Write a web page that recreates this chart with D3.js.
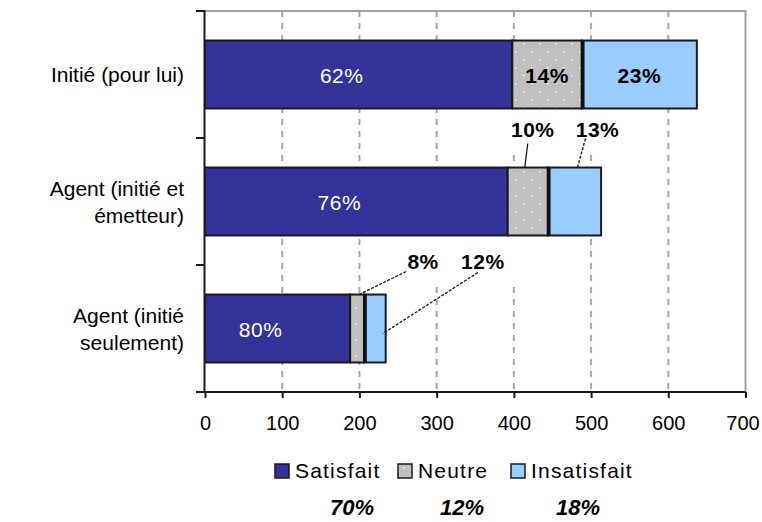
<!DOCTYPE html>
<html><head><meta charset="utf-8">
<script src="https://cdn.jsdelivr.net/npm/d3@7/dist/d3.min.js"></script>
<style>
html,body{margin:0;padding:0;background:#fff;}
svg{display:block;font-family:"Liberation Sans",Arial,sans-serif;}
</style></head>
<body>
<svg id="chart" width="762" height="522"></svg>
<script>
// ---- data ----
const categories = ["Initié (pour lui)", "Agent (initié et émetteur)", "Agent (initié seulement)"];
const categoryLines = [["Initié (pour lui)"], ["Agent (initié et", "émetteur)"], ["Agent (initié", "seulement)"]];
const seriesNames = ["Satisfait", "Neutre", "Insatisfait"];
const satisfait = [398, 392, 188];
const neutre = [90, 52, 18];
const insatisfait = [149, 69, 28];
const pctSatisfait = ["62%", "76%", "80%"];
const pctNeutre = ["14%", "10%", "8%"];
const pctInsatisfait = ["23%", "13%", "12%"];
const totalPct = ["70%", "12%", "18%"];
const xTicks = [0, 100, 200, 300, 400, 500, 600, 700];

// ---- layout / style ----
const colors = ["#333399", "#c0c0c0", "#99ccff"];
const plot = {left: 205, right: 746, top: 11, bottom: 392};

const svg = d3.select("#chart");
const defs = svg.append("defs");
const pat = defs.append("pattern").attr("id", "dots").attr("patternUnits", "userSpaceOnUse")
  .attr("width", 16).attr("height", 16);
pat.append("rect").attr("width", 16).attr("height", 16).attr("fill", colors[1]);
pat.append("rect").attr("x", 3).attr("y", 3).attr("width", 1.4).attr("height", 1.4).attr("fill", "#fff");
pat.append("rect").attr("x", 11).attr("y", 11).attr("width", 1.4).attr("height", 1.4).attr("fill", "#fff");
const fills = [colors[0], "url(#dots)", colors[2]];

const x = d3.scaleLinear().domain([0, 700]).range([plot.left, plot.right - 0.5]);
const y = d3.scaleBand().domain(categories).range([plot.top, plot.bottom])
  .paddingInner(0.465).paddingOuter(0.2325);

const rows = categories.map((c, i) => ({cat: c, Satisfait: satisfait[i], Neutre: neutre[i], Insatisfait: insatisfait[i]}));
const stacked = d3.stack().keys(seriesNames)(rows);
const pctBySeries = [pctSatisfait, pctNeutre, pctInsatisfait];

// gridlines
svg.append("g").selectAll("line").data(xTicks.filter(t => t > 0 && t < 700)).join("line")
  .attr("x1", d => x(d)).attr("x2", d => x(d))
  .attr("y1", plot.top).attr("y2", plot.bottom)
  .attr("stroke", "#a6a6a6").attr("stroke-width", 2).attr("stroke-dasharray", "6,6");

// plot frame (top and right grey)
svg.append("path")
  .attr("d", `M${plot.left},${plot.top}H${x(700)}V${plot.bottom}`)
  .attr("fill", "none").attr("stroke", "#a0a0a0").attr("stroke-width", 2);

// outside label placements (bar index, series index): label offset from segment anchor
const outside = [
  {bar: 1, s: 1, dx: 5, dy: -31, sx: -5, sy: 7, ax: -3, ay: 0, dash: null},
  {bar: 1, s: 2, dx: 23, dy: -31, sx: -12, sy: 2, ax: 3, ay: 0, dash: "3,1.5"},
  {bar: 2, s: 1, dx: 66, dy: -26, sx: -17, sy: 3, ax: 2, ay: 0, dash: "3,1.5"},
  {bar: 2, s: 2, dx: 108, dy: -26, sx: -5, sy: 4, ax: 8, ay: 39, dash: "3,1.5"}
];
const isOutside = (b, s) => outside.some(o => o.bar === b && o.s === s);

const labelLayer = svg.append("g");
const bgLayer = labelLayer.append("g");
const barLayer = svg.append("g");
const leaderLayer = svg.append("g");
const textLayer = svg.append("g");

stacked.forEach((ser, si) => {
  barLayer.append("g").selectAll("rect").data(ser).join("rect")
    .attr("x", d => x(d[0])).attr("width", d => x(d[1]) - x(d[0]))
    .attr("y", d => y(d.data.cat)).attr("height", y.bandwidth())
    .attr("fill", fills[si]).attr("stroke", "#1a1a1a").attr("stroke-width", 2);
  if (si === 2) {
    barLayer.append("g").selectAll("line").data(ser).join("line")
      .attr("x1", d => x(d[0]) + 1).attr("x2", d => x(d[0]) + 1)
      .attr("y1", d => y(d.data.cat)).attr("y2", d => y(d.data.cat) + y.bandwidth())
      .attr("stroke", "#111").attr("stroke-width", 3.5);
  }
});

// inside labels
stacked.forEach((ser, si) => {
  ser.forEach((d, bi) => {
    if (isOutside(bi, si)) return;
    const cx = (x(d[0]) + x(d[1])) / 2 + (si === 0 ? -17 : 0);
    const cy = y(d.data.cat) + y.bandwidth() / 2 + 8;
    textLayer.append("text").attr("x", cx).attr("y", cy).attr("text-anchor", "middle")
      .attr("font-size", 21).attr("font-weight", si === 0 ? "normal" : "bold")
      .attr("fill", si === 0 ? "#fff" : "#000").attr("letter-spacing", 0.5)
      .text(pctBySeries[si][bi]);
  });
});

// outside labels with leaders
outside.forEach(o => {
  const d = stacked[o.s][o.bar];
  const axp = (x(d[0]) + x(d[1])) / 2;
  const ayp = y(d.data.cat);
  const lx = axp + o.dx, ly = ayp + o.dy;
  const t = textLayer.append("text").attr("x", lx).attr("y", ly).attr("text-anchor", "middle")
    .attr("font-size", 21).attr("font-weight", "bold").attr("fill", "#000").attr("letter-spacing", 0.5)
    .text(pctBySeries[o.s][o.bar]);
  const bb = t.node().getBBox();
  bgLayer.append("rect").attr("x", bb.x - 4).attr("y", bb.y - 14)
    .attr("width", bb.width + 16).attr("height", bb.height + 26).attr("fill", "#fff");
  leaderLayer.append("line")
    .attr("x1", lx + o.sx).attr("y1", ly + o.sy)
    .attr("x2", axp + o.ax).attr("y2", ayp + o.ay)
    .attr("stroke", "#111").attr("stroke-width", 1.3)
    .attr("stroke-dasharray", o.dash);
});

// x axis
const xAxis = svg.append("g").attr("transform", `translate(0,${plot.bottom})`)
  .call(d3.axisBottom(x).tickValues(xTicks).tickSize(6).tickPadding(18).tickFormat(d3.format("d")));
xAxis.select(".domain").attr("d", `M${plot.left - 8},0H${x(700)}`).attr("stroke", "#1a1a1a").attr("stroke-width", 2);
xAxis.selectAll(".tick line").attr("stroke", "#1a1a1a").attr("stroke-width", 2);
xAxis.selectAll(".tick text").attr("font-size", 20).attr("fill", "#000")
  .attr("font-family", "'Liberation Sans',Arial,sans-serif")
  .attr("dx", d => d === 700 ? -3 : 0);

// y axis (left line + boundary ticks)
const yg = svg.append("g");
yg.append("line").attr("x1", plot.left - 0.5).attr("x2", plot.left - 0.5)
  .attr("y1", plot.top - 1).attr("y2", plot.bottom)
  .attr("stroke", "#1a1a1a").attr("stroke-width", 2);
const bounds = categories.map(c => y(c) - y.step() * y.paddingInner() / 2).concat([plot.bottom]);
yg.selectAll("line.tk").data(bounds).join("line").attr("class", "tk")
  .attr("x1", plot.left - 9).attr("x2", plot.left)
  .attr("y1", d => d).attr("y2", d => d)
  .attr("stroke", "#1a1a1a").attr("stroke-width", 2);

// category labels
categories.forEach((c, i) => {
  const lines = categoryLines[i];
  const cy = y(c) + y.bandwidth() / 2;
  const lh = 27;
  const t = yg.append("text").attr("text-anchor", "end").attr("font-size", 21).attr("fill", "#000");
  lines.forEach((ln, k) => {
    t.append("tspan").attr("x", 184)
      .attr("y", cy + 7.5 + (k - (lines.length - 1) / 2) * lh).text(ln);
  });
});

// legend
const legendX = [275, 398, 511];
const lg = svg.append("g");
seriesNames.forEach((n, i) => {
  lg.append("rect").attr("x", legendX[i]).attr("y", 464).attr("width", 14).attr("height", 14)
    .attr("fill", fills[i]).attr("stroke", "#1a1a1a").attr("stroke-width", 1.5);
  lg.append("text").attr("x", legendX[i] + 20).attr("y", 478).attr("font-size", 21)
    .attr("letter-spacing", 1.2).attr("fill", "#000").text(n);
});
const totX = [352, 462, 578];
totalPct.forEach((p, i) => {
  lg.append("text").attr("x", totX[i]).attr("y", 515).attr("text-anchor", "middle")
    .attr("font-size", 22).attr("font-weight", "bold").attr("font-style", "italic")
    .attr("fill", "#000").text(p);
});
</script>
</body></html>
